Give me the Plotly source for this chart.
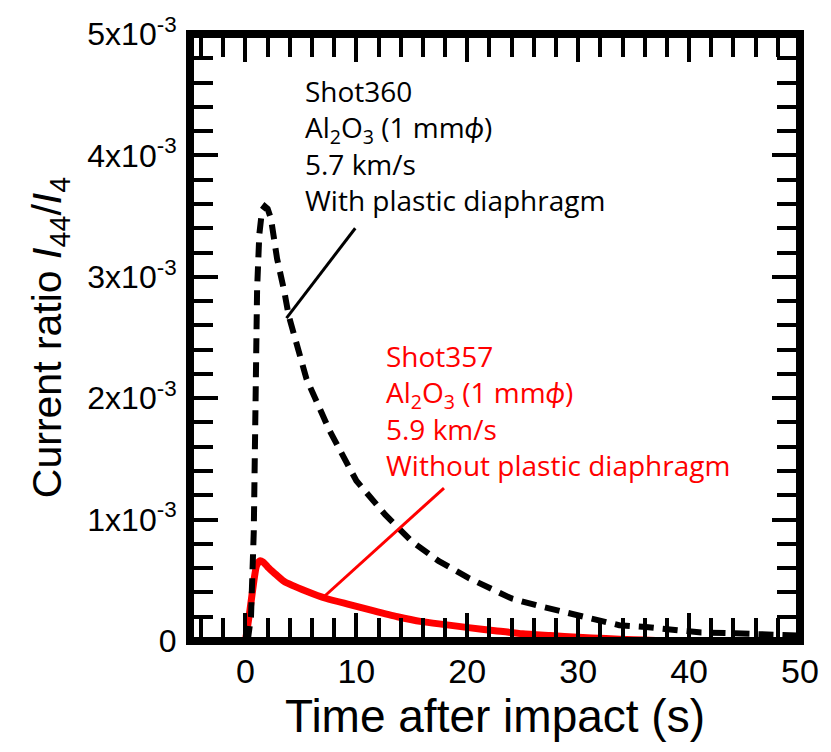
import plotly.graph_objects as go

# ---- data ----
t_black = [0.2, 0.5, 0.75, 0.9, 1.05, 1.25, 1.5, 1.75, 2.0, 2.3, 2.85, 3.5, 3.9, 5.5, 7.6,
           10.0, 12.6, 15.0, 17.4, 20.1, 24.0, 26.4, 29.0, 31.5, 33.7, 36.1, 38.8,
           41.1, 43.5, 45.9, 48.2, 50.0]
y_black = [0.0, 0.2, 0.9, 2.0, 2.9, 3.35, 3.55, 3.58, 3.56, 3.48, 3.15, 2.88, 2.68, 2.16, 1.73,
           1.32, 1.04, 0.82, 0.66, 0.52, 0.35, 0.29, 0.23, 0.17, 0.13, 0.115, 0.09,
           0.07, 0.065, 0.06, 0.05, 0.045]

t_red = [0.0, 0.4, 0.8, 1.0, 1.3, 1.6, 2.0, 2.6, 3.5, 5.5, 7.3, 9.4, 11.5, 13.7, 15.9, 18.0,
         20.1, 22.5, 25.0, 27.5, 30.0, 32.5, 35.0, 37.0, 38.0]
y_red = [0.0, 0.25, 0.52, 0.62, 0.66, 0.65, 0.61, 0.56, 0.49, 0.41, 0.35, 0.30, 0.25, 0.20, 0.16, 0.135,
         0.11, 0.085, 0.06, 0.045, 0.03, 0.02, 0.01, 0.005, 0.0]

scale = 1e-3
y_black = [v * scale for v in y_black]
y_red = [v * scale for v in y_red]

y_tickvals = [0, 1e-3, 2e-3, 3e-3, 4e-3, 5e-3]
y_ticktext = ["0", "1x10<sup>-3</sup>", "2x10<sup>-3</sup>", "3x10<sup>-3</sup>",
              "4x10<sup>-3</sup>", "5x10<sup>-3</sup>"]
x_tickvals = [0, 10, 20, 30, 40, 50]
x_ticktext = ["0", "10", "20", "30", "40", "50"]

label_black = "Shot360<br>Al<sub>2</sub>O<sub>3</sub> (1 mm<i>ϕ</i>)<br>5.7 km/s<br>With plastic diaphragm"
label_red = "Shot357<br>Al<sub>2</sub>O<sub>3</sub> (1 mm<i>ϕ</i>)<br>5.9 km/s<br>Without plastic diaphragm"

# leader-line endpoints (data coords): curve point -> label
lead_black = (3.7, 2.66e-3, 9.9, 3.40e-3)
lead_red = (6.9, 0.35e-3, 17.9, 1.26e-3)

fig = go.Figure()
fig.add_trace(go.Scatter(x=t_red, y=y_red, mode="lines",
                         line=dict(color="#ff0000", width=7, shape="spline", smoothing=0.6),
                         showlegend=False))
fig.add_trace(go.Scatter(x=t_black, y=y_black, mode="lines",
                         line=dict(color="black", width=6, dash="15px,9px"), showlegend=False))

axis_font = dict(family="Liberation Sans, Arial, sans-serif", color="black")

fig.update_layout(
    width=831, height=752,
    margin=dict(l=190, r=25, t=30, b=111),
    paper_bgcolor="white", plot_bgcolor="white",
    showlegend=False,
    xaxis=dict(range=[-5, 50], tickmode="array", tickvals=x_tickvals, ticktext=x_ticktext,
               ticks="inside", ticklen=28, tickwidth=4, tickcolor="black",
               showline=True, linewidth=1, linecolor="black", mirror="allticks",
               showgrid=False, zeroline=False,
               tickfont=dict(size=34, **axis_font),
               minor=dict(tickmode="linear", tick0=0, dtick=2, ticks="inside",
                          ticklen=23, tickwidth=4, tickcolor="black", showgrid=False),
               title=dict(text="Time after impact (s)", font=dict(size=46, **axis_font),
                          standoff=8)),
    yaxis=dict(range=[0, 5e-3], tickmode="array", tickvals=y_tickvals, ticktext=y_ticktext,
               ticks="inside", ticklen=28, tickwidth=4, tickcolor="black",
               showline=True, linewidth=1, linecolor="black", mirror="allticks",
               showgrid=False, zeroline=False,
               tickfont=dict(size=32, **axis_font), ticklabelstandoff=6,
               minor=dict(tickmode="linear", tick0=0, dtick=2e-4, ticks="inside",
                          ticklen=23, tickwidth=4, tickcolor="black", showgrid=False),
               title=dict(text="Current ratio <i>I</i><sub>44</sub>/<i>I</i><sub>4</sub>",
                          font=dict(size=41, **axis_font), standoff=12)),
)

fig.add_shape(type="rect", xref="paper", yref="paper", x0=0, y0=0, x1=1, y1=1,
              line=dict(color="black", width=8), layer="above")

fig.add_shape(type="line", xref="x", yref="y",
              x0=lead_black[0], y0=lead_black[1], x1=lead_black[2], y1=lead_black[3],
              line=dict(color="black", width=3))
fig.add_shape(type="line", xref="x", yref="y",
              x0=lead_red[0], y0=lead_red[1], x1=lead_red[2], y1=lead_red[3],
              line=dict(color="#ff0000", width=3))

ann_font = "Open Sans, Lato, sans-serif"
fig.add_annotation(x=5.2, y=4.70e-3, xref="x", yref="y", xanchor="left", yanchor="top",
                   text=label_black, showarrow=False, align="left",
                   font=dict(family=ann_font, size=28, color="black"))
fig.add_annotation(x=12.5, y=2.52e-3, xref="x", yref="y", xanchor="left", yanchor="top",
                   text=label_red, showarrow=False, align="left",
                   font=dict(family=ann_font, size=28, color="#ff0000"))

fig.write_html("out.html")
